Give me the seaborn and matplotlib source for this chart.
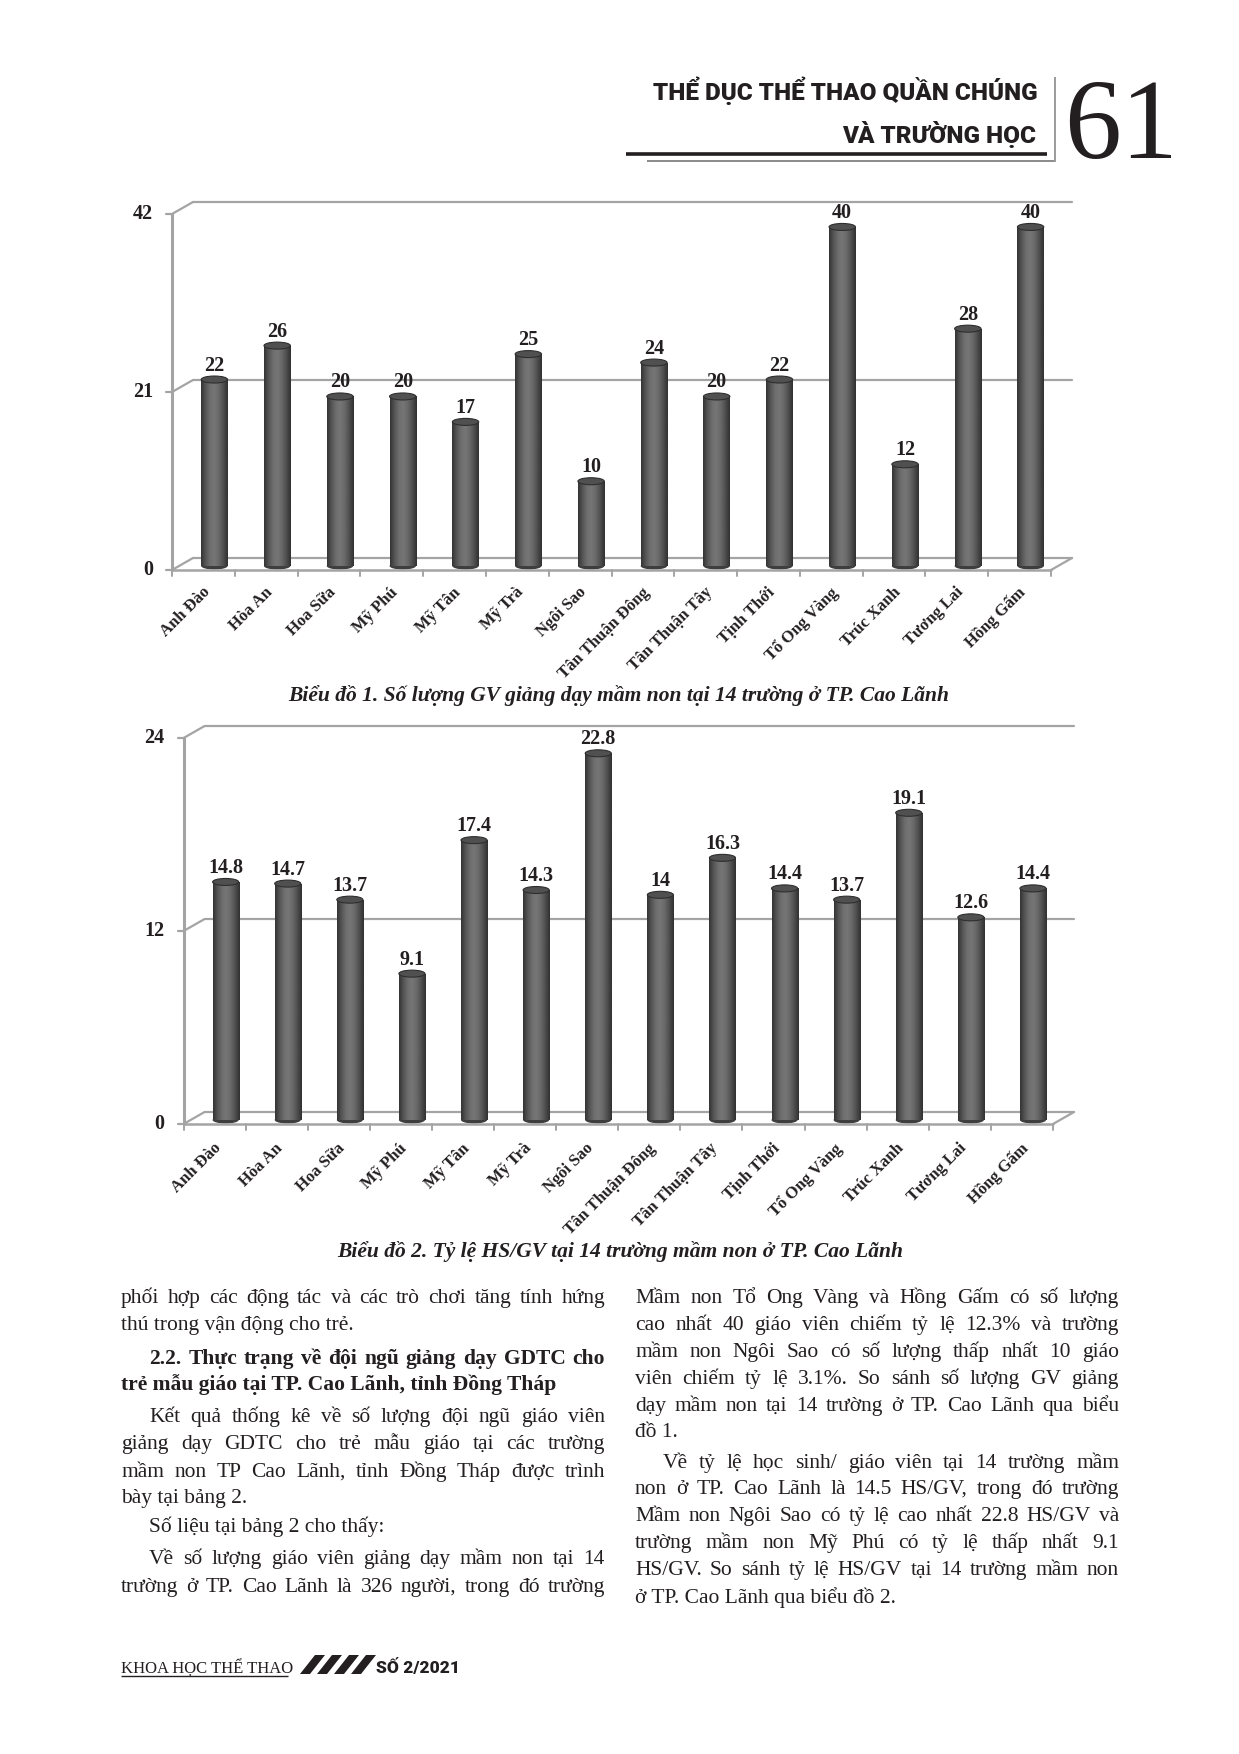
import numpy as np
import pandas as pd
import matplotlib
matplotlib.use("Agg")
import matplotlib.pyplot as plt
import matplotlib.transforms as mtransforms
from matplotlib.lines import Line2D
from matplotlib.patches import Ellipse, Polygon
from matplotlib.colors import LinearSegmentedColormap
import seaborn as sns

# ---------------- data ----------------
schools = ["Anh Đào", "Hòa An", "Hoa Sữa", "Mỹ Phú", "Mỹ Tân", "Mỹ Trà", "Ngôi Sao",
           "Tân Thuận Đông", "Tân Thuận Tây", "Tịnh Thới", "Tổ Ong Vàng", "Trúc Xanh",
           "Tương Lai", "Hồng Gấm"]
teachers = [22, 26, 20, 20, 17, 25, 10, 24, 20, 22, 40, 12, 28, 40]
ratio = [14.8, 14.7, 13.7, 9.1, 17.4, 14.3, 22.8, 14, 16.3, 14.4, 13.7, 19.1, 12.6, 14.4]
ticks1 = [0, 21, 42]
ticks2 = [0, 12, 24]
caption1 = "Biểu đồ 1. Số lượng GV giảng dạy mầm non tại 14 trường ở TP. Cao Lãnh"
caption2 = "Biểu đồ 2. Tỷ lệ HS/GV tại 14 trường mầm non ở TP. Cao Lãnh"

W, H = 1239, 1754
sns.set_theme(style="white")
SERIF = ["Liberation Serif", "DejaVu Serif"]
SANS = ["Roboto", "DejaVu Sans"]
plt.rcParams["font.family"] = SERIF

fig = plt.figure(figsize=(W / 100, H / 100), dpi=100)
fig.patch.set_facecolor("white")
renderer = fig.canvas.get_renderer()

INK = "#231f20"
GRID = "#a4a4a4"


def fig_line(xs, ys, color=GRID, lw=1.5, z=1):
    """xs, ys in page pixels (y measured from top)."""
    fig.add_artist(Line2D([x / W for x in xs], [1 - y / H for y in ys],
                          transform=fig.transFigure, color=color, lw=lw,
                          zorder=z, solid_capstyle="butt"))


def disp_line(p, q, color=GRID, lw=1.5, z=1):
    """p, q in display pixels (y from bottom)."""
    fig.add_artist(Line2D([p[0] / W, q[0] / W], [p[1] / H, q[1] / H],
                          transform=fig.transFigure, color=color, lw=lw, zorder=z))


cyl = LinearSegmentedColormap.from_list(
    "cyl", ["#333333", "#545454", "#6e6e6e", "#767676", "#686868", "#4e4e4e", "#303030"])


def chart(fx0, fx1, fy0, fytop, ymax, values, ticks, lab_dy):
    # bar plane = front plane shifted (+11 px right, 4 px up)
    bx0, bx1 = fx0 + 11, fx1 + 11
    by0, bytop = fy0 - 4, fytop - 4
    ax = fig.add_axes([bx0 / W, 1 - by0 / H, (bx1 - bx0) / W, (by0 - bytop) / H])
    df = pd.DataFrame({"school": schools, "value": values})
    sns.barplot(data=df, x="school", y="value", ax=ax, color="#5c5c5c",
                width=0.42, saturation=1, edgecolor="none", zorder=3)
    ax.set_xlim(-0.5, 13.5)
    ax.set_ylim(0, ymax)
    ax.axis("off")

    def off(dx, dy):
        return ax.transData + mtransforms.Affine2D().translate(dx, dy)

    FD = (-11, -4)   # front plane offset (display)
    BD = (10, 8)     # back plane offset (display)
    tf_back = off(*BD)

    # back wall gridlines
    for t in ticks:
        ax.plot([-0.5, 13.5], [t, t], transform=tf_back, color=GRID, lw=1.6,
                clip_on=False, zorder=1)
    # left wall diagonals, front axis, tick marks
    for t in ticks:
        p = ax.transData.transform((-0.5, t))
        disp_line((p[0] + FD[0], p[1] + FD[1]), (p[0] + BD[0], p[1] + BD[1]), lw=1.6)
        disp_line((p[0] + FD[0] - 6, p[1] + FD[1]), (p[0] + FD[0], p[1] + FD[1]), lw=1.6)
    p0 = ax.transData.transform((-0.5, 0))
    pt = ax.transData.transform((-0.5, ymax))
    disp_line((p0[0] + FD[0], p0[1] + FD[1]), (pt[0] + FD[0], pt[1] + FD[1]), lw=2.2)
    # floor
    pr = ax.transData.transform((13.5, 0))
    disp_line((p0[0] + FD[0], p0[1] + FD[1]), (pr[0] + FD[0], pr[1] + FD[1]), lw=1.8)
    disp_line((pr[0] + FD[0], pr[1] + FD[1]), (pr[0] + BD[0], pr[1] + BD[1]), lw=1.6)
    for k in range(15):
        q = ax.transData.transform((k - 0.5, 0))
        disp_line((q[0] + FD[0], q[1] + FD[1]), (q[0] + FD[0], q[1] + FD[1] - 6), lw=1.4)

    # y tick labels
    for t in ticks:
        ax.text(-0.5, t, str(t), transform=off(FD[0] - 19, FD[1]), ha="right",
                va="center", fontsize=14.5, fontweight="bold", color=INK, family=SERIF)
    # category labels
    for i, name in enumerate(schools):
        ax.text(i, 0, name, transform=off(FD[0] + 4, FD[1] - lab_dy), rotation=45,
                rotation_mode="anchor", ha="right", va="center", fontsize=12,
                fontweight="bold", color=INK, family=SERIF)

    # cylinder shading + caps
    ppu = (by0 - bytop) / ymax
    cap_h = 7 / ppu
    grad = np.linspace(0, 1, 128).reshape(1, -1)
    for p, v in zip(list(ax.patches), values):
        x, w, h = p.get_x(), p.get_width(), p.get_height()
        im = ax.imshow(grad, extent=[x, x + w, 0, h], aspect="auto", cmap=cyl,
                       zorder=3.5, interpolation="bicubic")
        im.set_clip_path(p)
        ax.add_patch(Ellipse((x + w / 2, 0), w, cap_h, fc="#3e3e3e", ec="none",
                             zorder=3.2, clip_on=False))
        ax.add_patch(Ellipse((x + w / 2, h), w, cap_h, fc="#505050", ec="#2e2e2e",
                             lw=0.8, zorder=4, clip_on=False))
        ax.text(x + w / 2, h, f"{v:g}", transform=off(0, 9), ha="center",
                va="baseline", fontsize=14.5, fontweight="bold", color=INK, family=SERIF)
    ax.set_xlim(-0.5, 13.5)
    ax.set_ylim(0, ymax)
    return ax


chart(172, 1051, 570, 214, 42, teachers, ticks1, 20)
chart(183.6, 1053, 1124, 738, 24, ratio, ticks2, 22)

fig.text(619 / W, 1 - 695 / H, caption1, ha="center", va="center", fontsize=15.5,
         style="italic", fontweight="bold", color=INK, family=SERIF)
fig.text(620 / W, 1 - 1252 / H, caption2, ha="center", va="center", fontsize=15.5,
         style="italic", fontweight="bold", color=INK, family=SERIF)

# ---------------- header ----------------
fig.text(1038 / W, 1 - 100 / H, "THỂ DỤC THỂ THAO QUẦN CHÚNG", ha="right", va="baseline",
         fontsize=17.5, fontweight="heavy", color=INK, family=SANS)
fig.text(1036 / W, 1 - 143 / H, "VÀ TRƯỜNG HỌC", ha="right", va="baseline",
         fontsize=17.5, fontweight="heavy", color=INK, family=SANS)
fig.text(1064 / W, 1 - 158 / H, "61", ha="left", va="baseline", fontsize=82,
         color=INK, family=SERIF)
fig_line([626, 1047], [154, 154], color=INK, lw=2.6)
fig_line([647, 1054], [161, 161], color="#8a8a8a", lw=1.4)
fig_line([1055, 1055], [77, 162], color="#8a8a8a", lw=1.2)

# ---------------- body text ----------------
FS = 15.5


def put_line(text, xl, xr, ybase, justify, bold=False, indent=0):
    kw = dict(fontsize=FS, fontweight="bold" if bold else "normal", va="baseline",
              ha="left", color=INK, family=SERIF)
    x0 = xl + indent
    if not justify:
        fig.text(x0 / W, 1 - ybase / H, text, **kw)
        return
    words = text.split()
    arts = [fig.text(0, 0, wd, **kw) for wd in words]
    widths = [a.get_window_extent(renderer).width for a in arts]
    gap = (xr - x0 - sum(widths)) / (len(words) - 1)
    x = x0
    for a, wd in zip(arts, widths):
        a.set_position((x / W, 1 - ybase / H))
        x += wd + gap


IND = 28
left_col = [
    ("phối hợp các động tác và các trò chơi tăng tính hứng", 1297, True, False, 0),
    ("thú trong vận động cho trẻ.", 1324, False, False, 0),
    ("2.2. Thực trạng về đội ngũ giảng dạy GDTC cho", 1358, True, True, IND),
    ("trẻ mẫu giáo tại TP. Cao Lãnh, tỉnh Đồng Tháp", 1384, False, True, 0),
    ("Kết quả thống kê về số lượng đội ngũ giáo viên", 1416, True, False, IND),
    ("giảng dạy GDTC cho trẻ mẫu giáo tại các trường", 1443, True, False, 0),
    ("mầm non TP Cao Lãnh, tỉnh Đồng Tháp được trình", 1471, True, False, 0),
    ("bày tại bảng 2.", 1497, False, False, 0),
    ("Số liệu tại bảng 2 cho thấy:", 1526, False, False, IND),
    ("Về số lượng giáo viên giảng dạy mầm non tại 14", 1558, True, False, IND),
    ("trường ở TP. Cao Lãnh là 326 người, trong đó trường", 1586, True, False, 0),
]
right_col = [
    ("Mầm non Tổ Ong Vàng và Hồng Gấm có số lượng", 1297, True, False, 0),
    ("cao nhất 40 giáo viên chiếm tỷ lệ 12.3% và trường", 1324, True, False, 0),
    ("mầm non Ngôi Sao có số lượng thấp nhất 10 giáo", 1351, True, False, 0),
    ("viên chiếm tỷ lệ 3.1%. So sánh số lượng GV giảng", 1378, True, False, 0),
    ("dạy mầm non tại 14 trường ở TP. Cao Lãnh qua biểu", 1405, True, False, 0),
    ("đồ 1.", 1431, False, False, 0),
    ("Về tỷ lệ học sinh/ giáo viên tại 14 trường mầm", 1462, True, False, IND),
    ("non ở TP. Cao Lãnh là 14.5 HS/GV, trong đó trường", 1488, True, False, 0),
    ("Mầm non Ngôi Sao có tỷ lệ cao nhất 22.8 HS/GV và", 1515, True, False, 0),
    ("trường mầm non Mỹ Phú có tỷ lệ  thấp nhất 9.1", 1542, True, False, 0),
    ("HS/GV. So sánh tỷ lệ HS/GV tại 14 trường mầm non", 1569, True, False, 0),
    ("ở TP. Cao Lãnh qua biểu đồ 2.", 1597, False, False, 0),
]
for txt, yc, j, b, ind in left_col:
    put_line(txt, 121, 605, yc + 6, j, b, ind)
for txt, yc, j, b, ind in right_col:
    put_line(txt, 635, 1119, yc + 6, j, b, ind)

# ---------------- footer ----------------
fig.text(121 / W, 1 - 1673 / H, "KHOA HỌC THỂ THAO", ha="left", va="baseline",
         fontsize=12, color=INK, family=SERIF)
fig_line([121, 288], [1676, 1676], color=INK, lw=1.0)
for k in range(4):
    xb = 300 + k * 17
    fig.add_artist(Polygon([[xb / W, 1 - 1674 / H], [(xb + 10) / W, 1 - 1674 / H],
                            [(xb + 25) / W, 1 - 1655 / H], [(xb + 15) / W, 1 - 1655 / H]],
                           closed=True, transform=fig.transFigure, fc=INK, ec="none"))
fig.text(376 / W, 1 - 1673 / H, "SỐ 2/2021", ha="left", va="baseline", fontsize=12.5,
         fontweight="heavy", color=INK, family=SANS)

fig.savefig("out.png", dpi=100, facecolor="white")
